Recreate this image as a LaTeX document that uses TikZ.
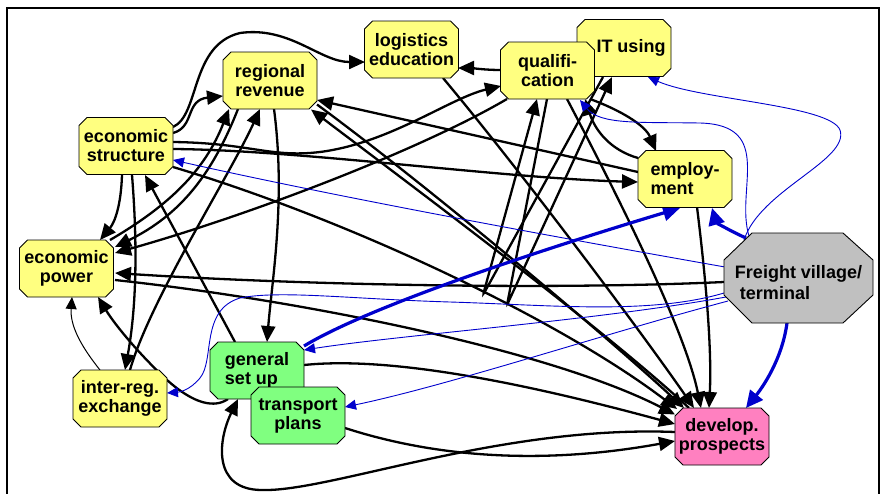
\documentclass[tikz,border=0pt]{standalone}
\usepackage{fontspec}
\setmainfont{Liberation Sans}
\usetikzlibrary{shapes.misc,arrows.meta}
\definecolor{ylw}{RGB}{255,255,128}
\definecolor{grn}{RGB}{128,255,128}
\definecolor{pnk}{RGB}{255,128,192}
\definecolor{gry}{RGB}{192,192,192}
\definecolor{blu}{RGB}{0,0,204}
\pgfdeclarelayer{bg}
\pgfsetlayers{bg,main}
\begin{document}
\begin{tikzpicture}[x=1pt,y=-1pt,
  box/.style={chamfered rectangle, chamfered rectangle xsep=4pt, chamfered rectangle ysep=4pt,
    draw, line width=0.9pt, minimum width=94pt, minimum height=57pt, inner sep=0pt,
    align=center, font=\bfseries\fontsize{18}{19}\selectfont},
  bk/.style={line width=2.3pt, -{Triangle[length=16pt,width=14pt]}},
  bkthin/.style={line width=1pt, -{Triangle[length=12pt,width=11pt]}},
  bl/.style={draw=blu, line width=0.9pt, -{Triangle[length=11pt,width=10pt]}},
  blt/.style={draw=blu, line width=3.2pt, -{Triangle[length=17pt,width=16pt]}},
]
\useasboundingbox (0,0) rectangle (886,493);
\draw[line width=1.5pt] (7,520) -- (7,8) -- (879,8) -- (879,520);

% nodes
\node[box,fill=ylw] (LE) at (411.5,49.5) {logistics\\education};
\node[box,fill=ylw] (RR) at (270,80.5) {regional\\revenue};
\node[box,fill=ylw] (ES) at (126,146) {economic\\structure};
\node[box,fill=ylw] (IT) at (624,48) {\hspace*{14pt}IT using};
\node[box,fill=ylw] (QU) at (547.5,70.5) {qualifi-\\cation};
\node[box,fill=ylw,align=left] (EM) at (685,179) {employ-\\ment};
\node[box,fill=ylw] (EP) at (66.5,268.5) {economic\\power};
\node[box,fill=ylw] (IR) at (120,398.5) {inter-reg.\\exchange};
\node[box,fill=grn,align=left] (GS) at (257,370.5) {general\\set up};
\node[box,fill=grn] (TP) at (298,415.5) {transport\\plans};
\node[box,fill=pnk] (DP) at (722,436.5) {develop.\\prospects};
\filldraw[fill=gry, line width=0.9pt] (724,260) -- (752,233) -- (843,233) -- (873,260) -- (873,295) -- (843,323) -- (752,323) -- (724,295) -- cycle;
\node[font=\bfseries\fontsize{18}{21}\selectfont, align=left, inner sep=0pt] (FV) at (798.5,282.5) {Freight village/\\\hspace*{5pt}terminal};

\begin{pgfonlayer}{bg}
% black connectors
\draw[bk] ([shift={(47,-19)}]ES.center) .. controls (200,115) and (190,45) .. (240,33) .. controls (290,26) and (320,62) .. ([shift={(-46.5,12.5)}]LE.center);
\draw[bk] ([shift={(47,-13)}]ES.center) .. controls (195,127) and (185,100) .. ([shift={(-47,15.5)}]RR.center);
\draw[bk] ([shift={(47,-4)}]ES.center) .. controls (250,143) and (270,158) .. (320,152) .. controls (390,143) and (450,98) .. ([shift={(-46.5,15.5)}]QU.center);
\draw[bk] ([shift={(47,3)}]ES.center) .. controls (300,150) and (500,178) .. ([shift={(-47,3)}]EM.center);
\draw[bk] ([shift={(-47,-7)}]EM.center) -- ([shift={(47,19.5)}]RR.center);
\draw[bk] ([shift={(-40.5,28.5)}]QU.center) .. controls (420,150) and (250,215) .. ([shift={(48.5,-15.5)}]EP.center);
\draw[bk] ([shift={(-4,29)}]ES.center) .. controls (121,205) and (115,222) .. ([shift={(33.5,-28.5)}]EP.center);
\draw[bk] ([shift={(-32,28.5)}]RR.center) .. controls (212,175) and (180,215) .. ([shift={(48.5,-21.5)}]EP.center);
\draw[bk] ([shift={(43.5,-28.5)}]EP.center) .. controls (170,205) and (205,170) .. ([shift={(-41,28.5)}]RR.center);
\draw[bk] ([shift={(10,-28.5)}]IR.center) .. controls (150,300) and (230,175) .. ([shift={(-10,28.5)}]RR.center);
\draw[bk] ([shift={(6,29)}]ES.center) .. controls (138,250) and (136,310) .. ([shift={(5,-28.5)}]IR.center);
\draw[bk] ([shift={(-22,-28.5)}]GS.center) -- ([shift={(19,29)}]ES.center);
\draw[bk] ([shift={(4,28.5)}]RR.center) .. controls (286,200) and (272,280) .. ([shift={(10,-28.5)}]GS.center);
\draw[bkthin] ([shift={(-20,-28.5)}]IR.center) .. controls (80,345) and (70,325) .. ([shift={(5.5,28.5)}]EP.center);
\draw[bk] ([shift={(-29,28.5)}]GS.center) .. controls (215,408) and (195,405) .. (167,380) .. controls (140,355) and (115,325) .. ([shift={(31.5,28.5)}]EP.center);
\draw[bk] ([shift={(-74.5,-0.5)}]FV.center) .. controls (550,290) and (300,285) .. ([shift={(48.5,4.5)}]EP.center);
\draw[bk] ([shift={(48.5,11.5)}]EP.center) .. controls (300,300) and (550,350) .. ([shift={(-47,-22)}]DP.center);
\draw[bk] ([shift={(47,21)}]ES.center) .. controls (350,220) and (560,320) .. ([shift={(-45,-27.5)}]DP.center);
\draw[bk] ([shift={(47,24)}]RR.center) .. controls (420,180) and (600,330) .. ([shift={(-38,-28.5)}]DP.center);
\draw[bk] ([shift={(-33,-28.5)}]DP.center) .. controls (605,330) and (420,192) .. ([shift={(41,29)}]RR.center);
\draw[bk] ([shift={(31.5,28.5)}]LE.center) .. controls (520,170) and (640,330) .. ([shift={(-28,-28.5)}]DP.center);
\draw[bk] ([shift={(19.5,28.5)}]QU.center) .. controls (620,200) and (685,330) .. ([shift={(-21,-28.5)}]DP.center);
\draw[bk] ([shift={(12,28)}]EM.center) .. controls (706,280) and (712,350) .. ([shift={(-13,-28.5)}]DP.center);
\draw[bk] ([shift={(47,-5.5)}]GS.center) .. controls (400,355) and (550,390) .. ([shift={(-47,-12.5)}]DP.center);
\draw[bk] ([shift={(47,12.5)}]TP.center) .. controls (450,462) and (560,462) .. ([shift={(-47,4.5)}]DP.center);
\draw[bk] ([shift={(-47,-4.5)}]DP.center) .. controls (500,425) and (330,492) .. (262,490) .. controls (212,490) and (218,440) .. ([shift={(-19,28.5)}]GS.center);
\draw[bk] ([shift={(42.5,28.5)}]QU.center) .. controls (620,110) and (645,125) .. ([shift={(-29,-28)}]EM.center);
\draw[bk] ([shift={(-47,-21)}]EM.center) .. controls (610,150) and (595,130) .. ([shift={(37.5,28.5)}]QU.center);
\draw[bk] ([shift={(-46.5,-0.5)}]QU.center) .. controls (485,70) and (470,68) .. ([shift={(46.5,18.5)}]LE.center);
\draw[bk, rounded corners=3pt] ([shift={(-21,29)}]IT.center) -- (483,295) -- ([shift={(-10.5,28.5)}]QU.center);
\draw[bk, rounded corners=3pt] ([shift={(-0.5,28.5)}]QU.center) -- (507,305) -- ([shift={(-12,29)}]IT.center);
% blue connectors
\draw[blt] ([shift={(-52.5,-44.5)}]FV.center) .. controls (728,230) and (716,222) .. ([shift={(27,29)}]EM.center);
\draw[blt] ([shift={(-11.5,40.5)}]FV.center) .. controls (782,360) and (762,388) .. ([shift={(24,-28.5)}]DP.center);
\draw[blt] ([shift={(47,-24.5)}]GS.center) .. controls (380,300) and (590,235) .. ([shift={(-5,29)}]EM.center);
\draw[bl] ([shift={(-54.5,-42.5)}]FV.center) .. controls (760,190) and (850,160) .. (840,130) .. controls (830,105) and (700,100) .. ([shift={(24,29)}]IT.center);
\draw[bl] ([shift={(-49.5,-46.5)}]FV.center) .. controls (735,190) and (775,125) .. (700,123) .. controls (640,122) and (600,125) .. ([shift={(32.5,29.5)}]QU.center);
\draw[bl] ([shift={(-73.5,-15.5)}]FV.center) .. controls (600,245) and (350,200) .. ([shift={(47,14)}]ES.center);
\draw[bl] ([shift={(-74.5,10.5)}]FV.center) .. controls (650,315) and (550,305) .. (450,302) .. controls (350,299) and (280,290) .. (240,298) .. controls (200,310) and (215,360) .. (200,378) .. controls (190,390) and (180,392) .. ([shift={(47,-5.5)}]IR.center);
\draw[bl] ([shift={(-72.5,14.5)}]FV.center) .. controls (600,320) and (400,335) .. ([shift={(47,-20.5)}]GS.center);
\draw[bl] ([shift={(-70.5,18.5)}]FV.center) .. controls (600,335) and (450,385) .. ([shift={(47,-8.5)}]TP.center);
\end{pgfonlayer}
\end{tikzpicture}
\end{document}
